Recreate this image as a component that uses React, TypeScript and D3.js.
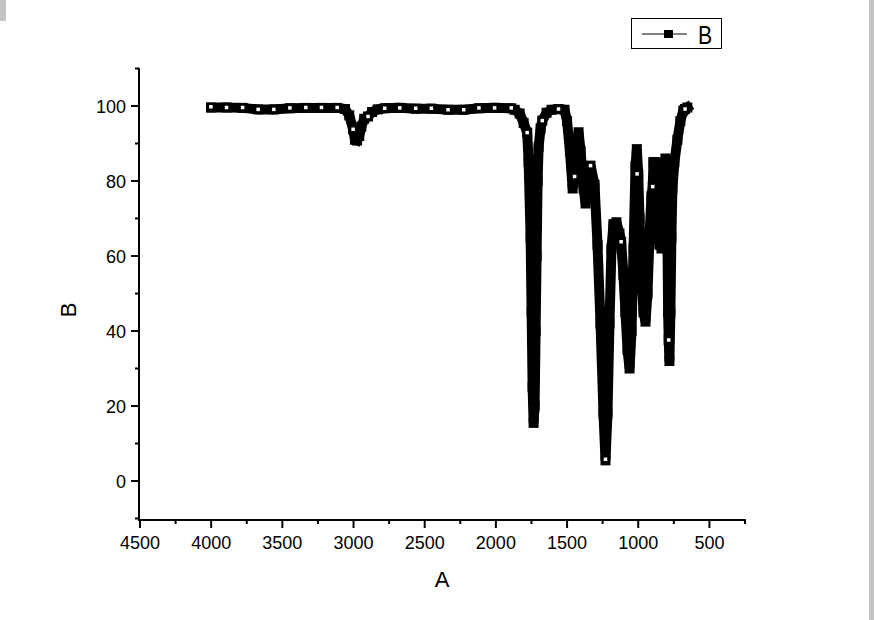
import React, { useEffect, useRef } from 'react';
import * as d3 from 'd3';

// Spectrum trace (wavenumber A, transmittance B)
const specA = [
  4000, 3892, 3779, 3670, 3560, 3447, 3335, 3225, 3115, 3060, 3030, 3003, 2990, 2975, 2960, 2945, 2925,
  2898, 2870, 2830, 2781, 2675, 2563, 2453, 2336, 2226, 2119, 2009, 1892, 1868, 1833, 1805, 1780,
  1770, 1756, 1749, 1742, 1735, 1728, 1721, 1714, 1707, 1700, 1686, 1674, 1644, 1609, 1560, 1518,
  1500, 1480, 1461, 1447, 1430, 1419, 1405, 1384, 1370, 1349, 1335, 1307, 1286, 1265, 1244, 1230,
  1216, 1202, 1188, 1174, 1153, 1132, 1120, 1104, 1090, 1075, 1061, 1047, 1033, 1019, 1010, 1000,
  991, 977, 963, 949, 935, 921, 907, 898, 893, 879, 865, 851, 837, 823, 809, 800, 795, 790,
  786, 781, 774, 767, 760, 746, 725, 704, 683, 671, 655,
];
const specB = [
  99.6, 99.6, 99.5, 99.1, 99.1, 99.4, 99.5, 99.5, 99.5, 99.2, 97.5, 93.8, 91.0, 90.8, 92.0, 94.5, 96.6,
  97.2, 98.4, 99.1, 99.4, 99.5, 99.3, 99.3, 99.0, 99.0, 99.4, 99.5, 99.4, 99.0, 98.0, 95.5, 92.9,
  85, 65, 45, 25, 15.5, 20, 40, 60, 80, 89, 94, 96.1, 98.2, 99.0, 99.2, 99.0,
  96, 88, 78, 81.2, 90, 93, 88, 78, 74, 81, 84.1, 79, 63, 42, 18, 5.5,
  18, 42, 62, 68.5, 69, 66, 63.8, 55, 45, 35, 30, 40, 62, 84, 88.5, 81.9,
  70, 55, 45, 42.5, 50, 65, 76, 78.5, 85, 85, 75, 63, 62, 75, 86, 84, 65, 45,
  37.6, 32, 45, 65, 78, 85, 91, 96, 98.8, 99.2, 99.6,
];

// Symbol centres (the white dots on the thick trace)
const markA = [
  4002, 3892, 3779, 3670, 3560, 3447, 3335, 3225, 3115, 3003, 2898, 2781, 2675, 2563, 2453, 2336,
  2226, 2119, 2009, 1892, 1780, 1674, 1560, 1447, 1335, 1230, 1120, 1008, 898, 786, 671,
];
const markB = [
  99.8, 99.6, 99.6, 99.1, 99.1, 99.5, 99.6, 99.6, 99.6, 93.8, 97.2, 99.4, 99.5, 99.4, 99.4, 99.0,
  99.0, 99.5, 99.5, 99.5, 92.9, 96.1, 99.2, 81.2, 84.1, 5.8, 63.8, 81.9, 78.5, 37.6, 99.2,
];

const xMajor = [4500, 4000, 3500, 3000, 2500, 2000, 1500, 1000, 500];
const xMinor = [4250, 3750, 3250, 2750, 2250, 1750, 1250, 750, 250];
const yMajor = [0, 20, 40, 60, 80, 100];
const yMinor = [-10, 10, 30, 50, 70, 90, 110];

const FONT = '"Liberation Sans", Arial, sans-serif';

const App = () => {
  const ref = useRef<SVGSVGElement | null>(null);

  useEffect(() => {
    if (!ref.current) return;
    const svg = d3.select(ref.current);
    svg.selectAll('*').remove();

    const x = d3.scaleLinear().domain([4500, 250]).range([140, 745]);
    const y = d3.scaleLinear().domain([-10.4, 110]).range([520, 68.5]);

    svg.append('rect').attr('width', 874).attr('height', 620).attr('fill', '#fff');
    // grey scan edges
    svg.append('rect').attr('x', 0).attr('y', 0).attr('width', 6).attr('height', 21).attr('fill', '#c4c4c4');
    svg.append('rect').attr('x', 869).attr('y', 0).attr('width', 5).attr('height', 620).attr('fill', '#c4c4c4');

    // axes
    const ax = svg.append('g').attr('stroke', '#000').attr('stroke-width', 2);
    ax.append('line').attr('x1', 139).attr('x2', 746).attr('y1', 520).attr('y2', 520);
    ax.append('line').attr('x1', 139).attr('x2', 139).attr('y1', 68).attr('y2', 521);

    xMajor.forEach(v => {
      ax.append('line').attr('x1', x(v)).attr('x2', x(v)).attr('y1', 520).attr('y2', 528);
    });
    xMinor.forEach(v => {
      ax.append('line').attr('x1', x(v)).attr('x2', x(v)).attr('y1', 520).attr('y2', 524);
    });
    yMajor.forEach(v => {
      ax.append('line').attr('x1', 139).attr('x2', 131).attr('y1', y(v)).attr('y2', y(v));
    });
    yMinor.forEach(v => {
      ax.append('line').attr('x1', 139).attr('x2', 135).attr('y1', y(v)).attr('y2', y(v));
    });

    svg.selectAll('.xl')
      .data(xMajor)
      .enter()
      .append('text')
      .attr('x', d => x(d))
      .attr('y', 549)
      .attr('text-anchor', 'middle')
      .style('font-family', FONT)
      .style('font-size', '18px')
      .text(d => d);

    svg.selectAll('.yl')
      .data(yMajor)
      .enter()
      .append('text')
      .attr('x', 126)
      .attr('y', d => y(d) + 6.5)
      .attr('text-anchor', 'end')
      .style('font-family', FONT)
      .style('font-size', '18px')
      .text(d => d);

    svg.append('text')
      .attr('x', 442)
      .attr('y', 587)
      .attr('text-anchor', 'middle')
      .style('font-family', FONT)
      .style('font-size', '22px')
      .text('A');

    svg.append('text')
      .attr('transform', 'translate(76, 310) rotate(-90)')
      .attr('text-anchor', 'middle')
      .style('font-family', FONT)
      .style('font-size', '22px')
      .text('B');

    // trace
    const pts = specA.map((a, i) => [a, specB[i]] as [number, number]);
    const line = d3.line<[number, number]>().x(d => x(d[0])).y(d => y(d[1]));
    svg.append('path')
      .attr('d', line(pts))
      .attr('fill', 'none')
      .attr('stroke', '#000')
      .attr('stroke-width', 10)
      .attr('stroke-linejoin', 'miter')
      .attr('stroke-miterlimit', 1.5)
      .attr('stroke-linecap', 'square');

    svg.selectAll('.sym')
      .data(pts)
      .enter()
      .append('rect')
      .attr('x', d => x(d[0]) - 5)
      .attr('y', d => y(d[1]) - 5)
      .attr('width', 10)
      .attr('height', 10)
      .attr('fill', '#000');

    svg.selectAll('.dot')
      .data(markA)
      .enter()
      .append('rect')
      .attr('x', (d) => x(d) - 1.75)
      .attr('y', (d, i) => y(markB[i]) - 1.75)
      .attr('width', 3.5)
      .attr('height', 3.5)
      .attr('fill', '#fff');

    // legend
    const lg = svg.append('g');
    lg.append('rect')
      .attr('x', 631.5).attr('y', 18.5).attr('width', 90).attr('height', 30)
      .attr('fill', '#fff').attr('stroke', '#000').attr('stroke-width', 1);
    lg.append('line').attr('x1', 642).attr('x2', 687).attr('y1', 34).attr('y2', 34)
      .attr('stroke', '#000').attr('stroke-width', 1);
    lg.append('rect').attr('x', 664).attr('y', 30).attr('width', 9).attr('height', 8).attr('fill', '#000');
    lg.append('text')
      .attr('x', 698).attr('y', 44)
      .style('font-family', FONT)
      .style('font-size', '25px')
      .attr('transform', 'translate(698,44) scale(0.85,1) translate(-698,-44)')
      .text('B');
  }, []);

  return (
    <svg
      ref={ref}
      width={874}
      height={620}
      style={{ position: 'absolute', left: 0, top: 0 }}
    />
  );
};

export default App;
